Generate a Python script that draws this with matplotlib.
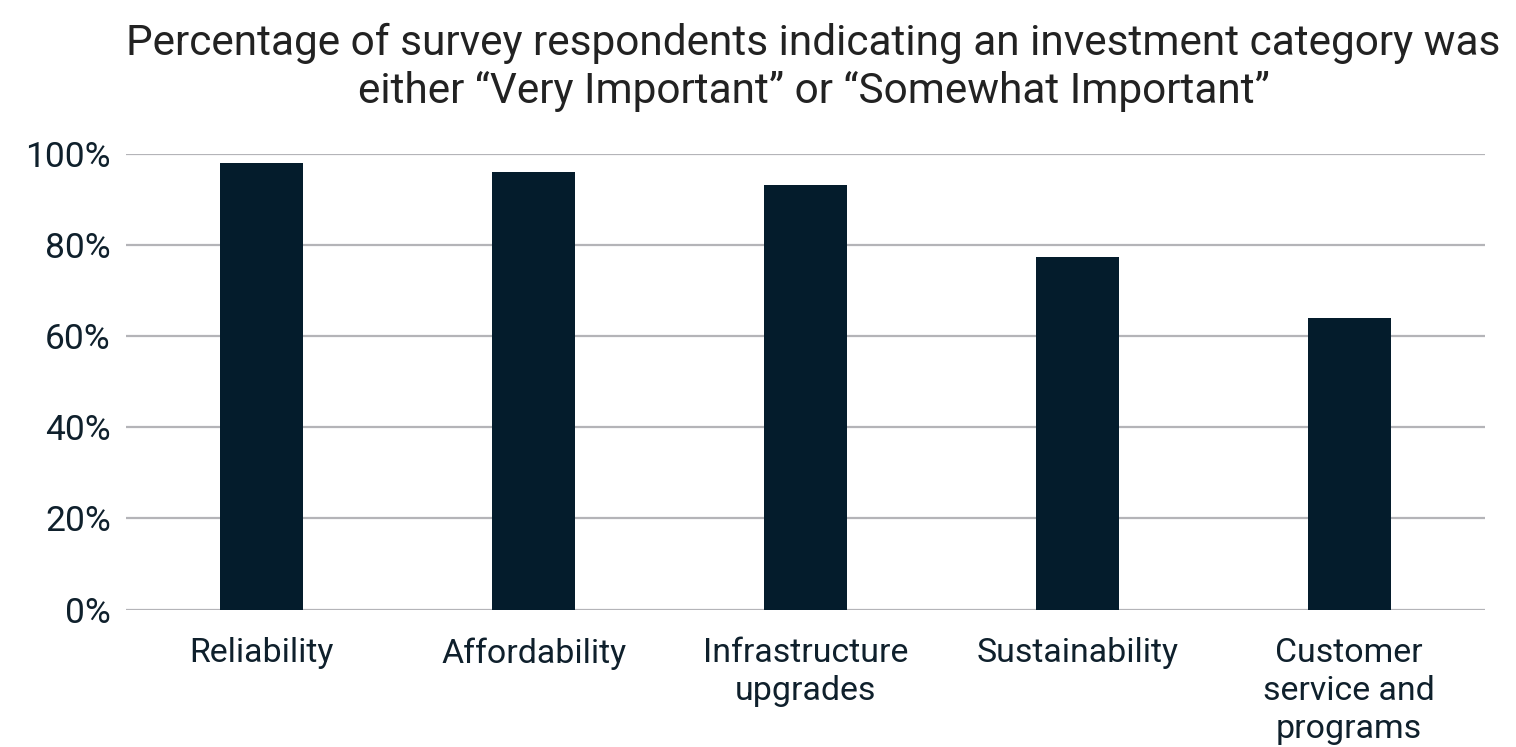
import matplotlib.pyplot as plt
from matplotlib.ticker import PercentFormatter

plt.rcParams['font.family'] = ['Roboto', 'DejaVu Sans']

categories = ["Reliability", "Affordability", "Infrastructure\nupgrades", "Sustainability",
              "Customer\nservice and\nprograms"]
shares = [0.98, 0.96, 0.93, 0.774, 0.64]
y_ticks = [0, 0.2, 0.4, 0.6, 0.8, 1.0]

BAR_COLOR = "#041c2c"
TEXT_COLOR = "#0f202c"
GRID_COLOR = "#b4b4b8"

figure = plt.figure(figsize=(15.16, 7.47), dpi=100)
axis = figure.add_axes([0.0831, 0.184, 0.8965, 0.6105])

positions = range(len(categories))
axis.bar(positions, shares, width=0.305, color=BAR_COLOR, zorder=3)

axis.set_xlim(-0.5, len(categories) - 0.5)
axis.set_ylim(0, 1.0)
axis.set_yticks(y_ticks)
axis.yaxis.set_major_formatter(PercentFormatter(1.0, decimals=0))
axis.set_xticks(list(positions))
axis.set_xticklabels(categories, linespacing=1.23)

axis.grid(axis="y", color=GRID_COLOR, linewidth=1.6, zorder=0)
axis.tick_params(axis="y", length=0, pad=11, labelsize=25.5, labelcolor=TEXT_COLOR)
axis.tick_params(axis="x", length=0, pad=20, labelsize=24.4, labelcolor=TEXT_COLOR)
for side in ["top", "right", "left", "bottom"]:
    axis.spines[side].set_visible(False)

figure.text(0.5366, 0.97, "Percentage of survey respondents indicating an investment category was\n"
                          "either \u201cVery Important\u201d or \u201cSomewhat Important\u201d",
            ha="center", va="top", fontsize=30.5, color="#222222", linespacing=1.22)

figure.savefig("out.png", dpi=100)
